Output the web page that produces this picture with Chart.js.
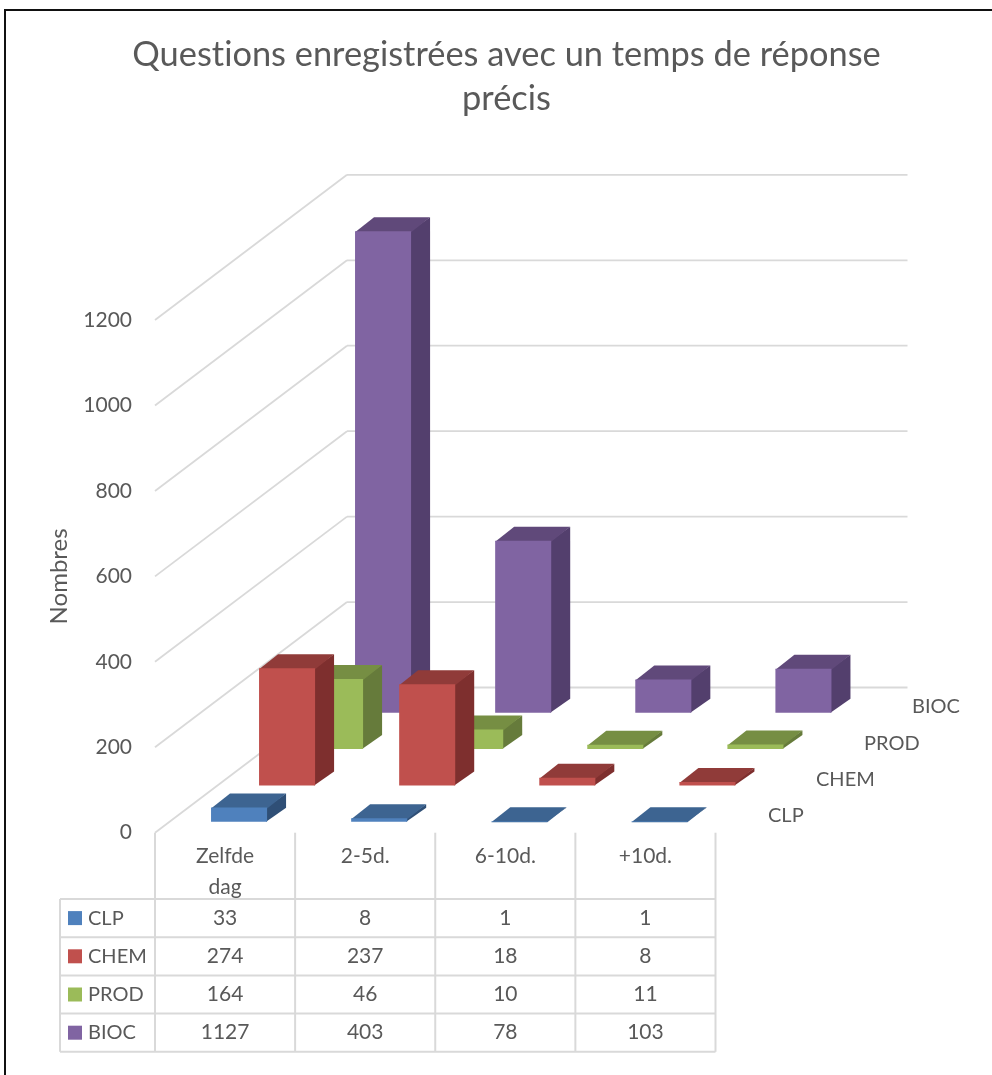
<!DOCTYPE html>
<html>
<head>
<meta charset="utf-8">
<title>Questions enregistrées</title>
<script src="https://cdn.jsdelivr.net/npm/chart.js@4"></script>
<style>
  html, body { margin: 0; padding: 0; background: #fff; overflow: hidden; }
  canvas { display: block; }
  #frame { position: fixed; left: 4px; top: 9px; right: 0; bottom: 0; border-left: 2px solid #111; border-top: 2px solid #111; pointer-events: none; }
</style>
</head>
<body>
<canvas id="chart" width="992" height="1075"></canvas>
<div id="frame"></div>
<script>
const categories = [['Zelfde', 'dag'], '2-5d.', '6-10d.', '+10d.'];
const seriesNames = ['CLP', 'CHEM', 'PROD', 'BIOC'];
const clp = [33, 8, 1, 1];
const chem = [274, 237, 18, 8];
const prod = [164, 46, 10, 11];
const bioc = [1127, 403, 78, 103];
const seriesValues = [clp, chem, prod, bioc];

// front, top and side face of each series
const faces = [
  ['#4f81bd', '#3d6491', '#2f4f76'],
  ['#c0504d', '#903b39', '#7e2f2e'],
  ['#9bbb59', '#768e43', '#667b3b'],
  ['#8064a2', '#60497a', '#533f6d']
];

const textColor = '#595959';
const lineColor = '#d9d9d9';
const fontName = 'Lato, sans-serif';

// fake 3D: every series sits one slot further back on the floor
const slotX = 48, slotY = 36.3;
const gapX = 14, gapY = 11;
const barX = 19, barY = 14;

function line(ctx, x1, y1, x2, y2) {
  ctx.beginPath();
  ctx.moveTo(x1, y1);
  ctx.lineTo(x2, y2);
  ctx.stroke();
}

function poly(ctx, color, pts) {
  ctx.fillStyle = color;
  ctx.beginPath();
  pts.forEach((p, i) => i ? ctx.lineTo(p[0], p[1]) : ctx.moveTo(p[0], p[1]));
  ctx.closePath();
  ctx.fill();
}

const walls3d = {
  id: 'walls3d',
  beforeDraw(chart) {
    // the reference has no "ti" ligature
    chart.ctx.textRendering = 'optimizeSpeed';
  },
  beforeDatasetsDraw(chart) {
    const { ctx, scales: { y }, chartArea } = chart;
    const backX = slotX * seriesNames.length;
    const backY = slotY * seriesNames.length;
    ctx.save();
    ctx.strokeStyle = lineColor;
    ctx.lineWidth = 1.8;
    y.ticks.forEach(t => {
      const py = y.getPixelForValue(t.value);
      line(ctx, chartArea.left, py, chartArea.left + backX, py - backY);
      line(ctx, chartArea.left + backX, py - backY, chartArea.right + backX, py - backY);
    });
    // series names along the floor
    ctx.fillStyle = textColor;
    ctx.font = '20px ' + fontName;
    ctx.textBaseline = 'middle';
    ctx.textAlign = 'left';
    const py0 = y.getPixelForValue(0);
    seriesNames.forEach((name, k) => {
      ctx.fillText(name, chartArea.right + 52.5 + slotX * k, py0 - 17 - slotY * k);
    });
    ctx.restore();
  },
  beforeDatasetDraw(chart, args) {
    const { ctx } = chart;
    const k = args.index;
    const [front, top, side] = faces[k];
    chart.getDatasetMeta(k).data.forEach(bar => {
      const l = bar.x - bar.width / 2 + gapX + slotX * k;
      const r = l + bar.width;
      const t = bar.y - gapY - slotY * k;
      const b = bar.base - gapY - slotY * k;
      // side and top run 1px under the front so no seam shows
      poly(ctx, side, [[r - 1, t], [r + barX, t - barY], [r + barX, b - barY], [r - 1, b]]);
      poly(ctx, top, [[l, t + 1], [l + barX, t - barY], [r + barX, t - barY], [r, t + 1]]);
      poly(ctx, front, [[l, t], [r, t], [r, b], [l, b]]);
    });
    return false;
  },
  afterDraw(chart) {
    const { ctx, scales: { x, y }, chartArea } = chart;
    const rowTop = 899, rowH = 38.2, tableLeft = 60;
    const rows = seriesNames.length;
    const colW = (chartArea.right - chartArea.left) / categories.length;
    ctx.save();
    ctx.strokeStyle = lineColor;
    ctx.lineWidth = 2;
    for (let i = 0; i <= rows; i++) {
      line(ctx, tableLeft, rowTop + i * rowH, chartArea.right, rowTop + i * rowH);
    }
    line(ctx, tableLeft, rowTop, tableLeft, rowTop + rows * rowH);
    for (let c = 0; c <= categories.length; c++) {
      const cx = chartArea.left + c * colW;
      line(ctx, cx, y.getPixelForValue(0), cx, rowTop + rows * rowH);
    }
    ctx.textBaseline = 'middle';
    seriesNames.forEach((name, k) => {
      const cy = rowTop + (k + 0.5) * rowH;
      ctx.fillStyle = faces[k][0];
      ctx.fillRect(68, cy - 7, 14, 14);
      ctx.fillStyle = textColor;
      ctx.textAlign = 'left';
      ctx.font = '20px ' + fontName;
      ctx.fillText(name, 88, cy);
      ctx.textAlign = 'center';
      ctx.font = '21px ' + fontName;
      seriesValues[k].forEach((v, i) => ctx.fillText(String(v), x.getPixelForValue(i), cy));
    });
    ctx.restore();
  }
};

const chartAreaBottom = 832.7;

new Chart(document.getElementById('chart').getContext('2d'), {
  type: 'bar',
  data: {
    labels: categories,
    datasets: seriesNames.map((name, k) => ({
      label: name,
      data: seriesValues[k],
      backgroundColor: faces[k][0],
      grouped: false,
      categoryPercentage: 0.4,
      barPercentage: 1
    }))
  },
  plugins: [walls3d],
  options: {
    responsive: false,
    animation: false,
    events: [],
    layout: { autoPadding: false, padding: { left: 21 } },
    plugins: {
      legend: { display: false },
      tooltip: { enabled: false },
      title: {
        display: true,
        text: ['Questions enregistrées avec un temps de réponse', 'précis'],
        color: textColor,
        font: { family: fontName, size: 34.4, weight: 'normal', lineHeight: 1.265 },
        padding: { top: 33.25, bottom: 199.75 }
      }
    },
    scales: {
      x: {
        grid: { display: false, drawTicks: false },
        border: { display: false },
        ticks: {
          color: textColor,
          autoSkip: false,
          maxRotation: 0,
          padding: 9,
          font: { family: fontName, size: 21, lineHeight: 1.43 }
        },
        afterFit: s => { s.height = 1075 - chartAreaBottom; }
      },
      y: {
        min: 0,
        max: 1200,
        grid: { display: false, drawTicks: false },
        border: { display: false },
        ticks: {
          stepSize: 200,
          color: textColor,
          padding: 23,
          font: { family: fontName, size: 21 },
          callback: v => String(v)
        },
        title: {
          display: true,
          text: 'Nombres',
          color: textColor,
          padding: { top: 24, bottom: 0 },
          font: { family: fontName, size: 24, weight: 'normal' }
        },
        afterFit: s => { s.width = 134; }
      },
      // empty axis, only keeps the plot away from the right side
      depth: {
        type: 'linear',
        axis: 'y',
        position: 'right',
        grid: { display: false, drawTicks: false },
        border: { display: false },
        ticks: { display: false },
        afterFit: s => { s.width = 276.5; }
      }
    }
  }
});
</script>
</body>
</html>
